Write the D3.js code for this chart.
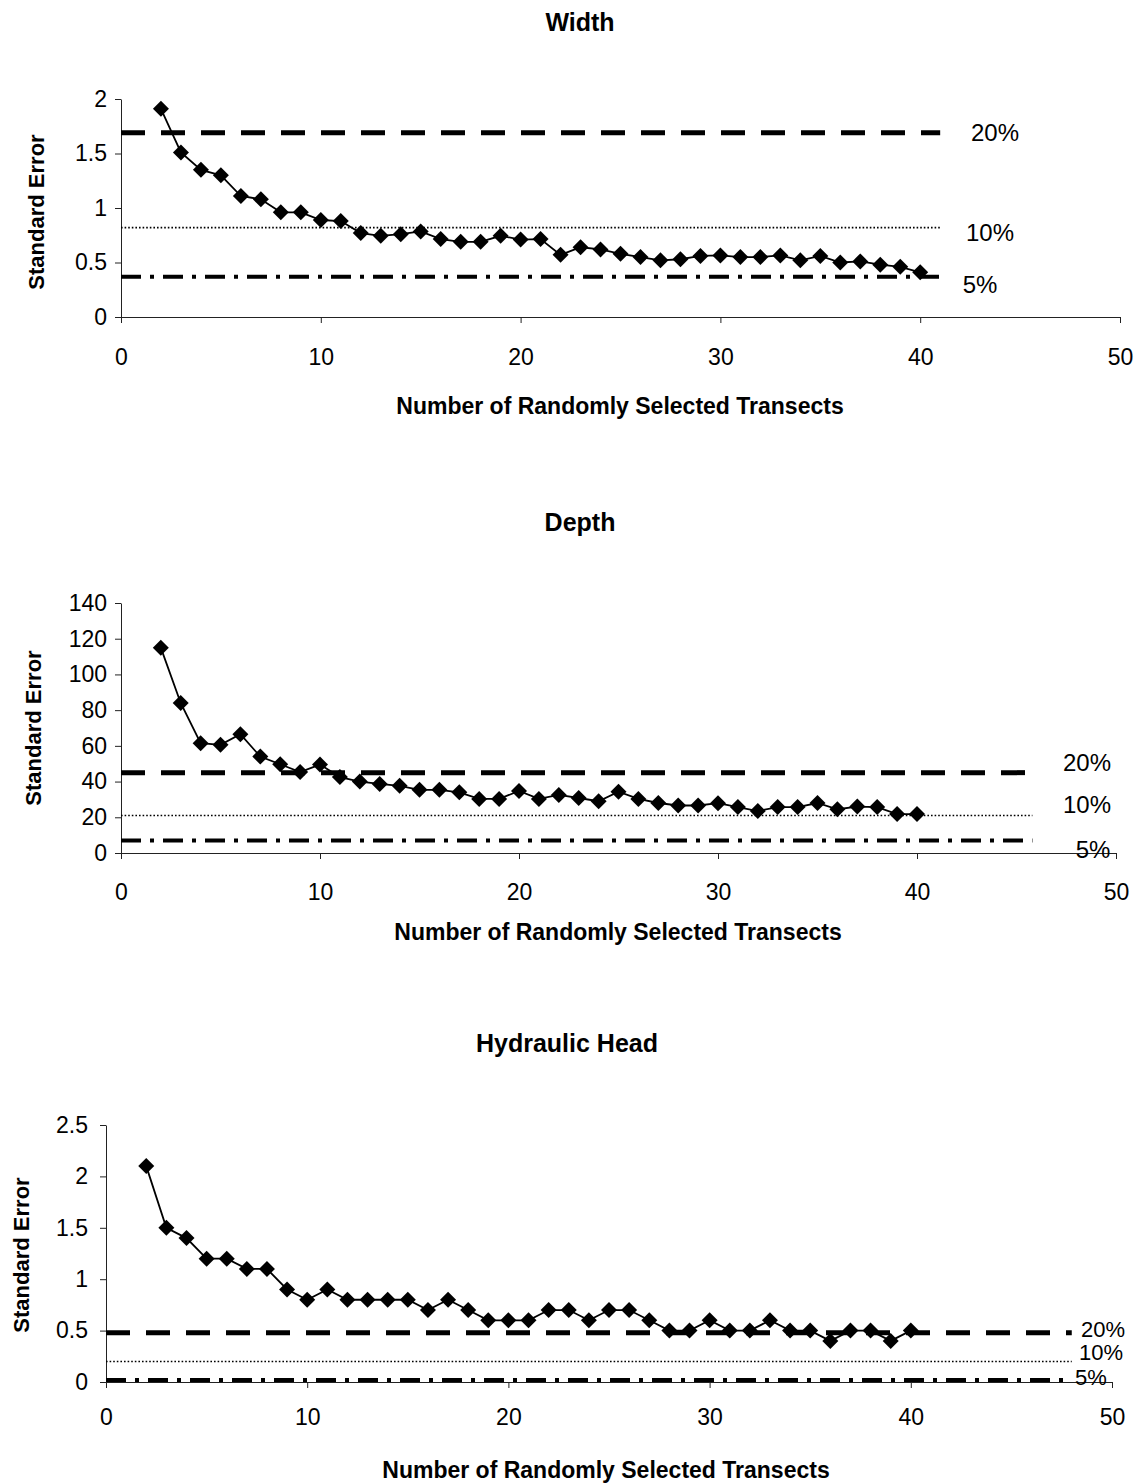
<!DOCTYPE html>
<html>
<head>
<meta charset="utf-8">
<script src="https://cdn.jsdelivr.net/npm/d3@7"></script>
<style>
  body { margin: 0; background: #fff; }
  svg { font-family: "Liberation Sans", Arial, sans-serif; }
  .tick text { font-size: 23px; fill: #000; }
  .title { font-size: 25px; font-weight: bold; }
  .axis-title { font-size: 23px; font-weight: bold; }
  .ytitle { font-size: 22px; font-weight: bold; }
  .pct { font-size: 24px; }
</style>
</head>
<body>
<div id="chart"></div>
<script>
// x values: number of randomly selected transects
var transects = d3.range(2, 41);

// Standard error series
var widthSE = [1.91, 1.51, 1.35, 1.30, 1.11, 1.08, 0.96, 0.96, 0.89, 0.88,
  0.77, 0.745, 0.76, 0.785, 0.715, 0.69, 0.69, 0.745, 0.71, 0.715,
  0.57, 0.64, 0.62, 0.58, 0.55, 0.52, 0.53, 0.56, 0.565, 0.55,
  0.55, 0.565, 0.52, 0.56, 0.50, 0.51, 0.48, 0.46, 0.41];

var depthSE = [115, 84, 61.5, 60.6, 66.5, 54, 49.7, 45.3, 49.5, 42.5,
  40, 38.7, 37.6, 35.4, 35.4, 34, 30.3, 30.3, 34.7, 30.3,
  32.5, 30.8, 29, 34.3, 30.3, 28, 26.6, 26.6, 27.9, 25.7,
  23.5, 25.7, 25.7, 28, 24.5, 26, 25.7, 21.8, 21.8];

var headSE = [2.1, 1.5, 1.4, 1.2, 1.2, 1.1, 1.1, 0.9, 0.8, 0.9,
  0.8, 0.8, 0.8, 0.8, 0.7, 0.8, 0.7, 0.6, 0.6, 0.6,
  0.7, 0.7, 0.6, 0.7, 0.7, 0.6, 0.5, 0.5, 0.6, 0.5,
  0.5, 0.6, 0.5, 0.5, 0.4, 0.5, 0.5, 0.4, 0.5];

// precision reference lines (20%, 10%, 5%) and how far right they run
var pctLabels = ["20%", "10%", "5%"];
var widthRef = [1.69, 0.82, 0.37];
var depthRef = [45, 21, 7];
var headRef = [0.48, 0.2, 0.02];
var widthRefEnd = 41;
var depthRefEnd = 45.8;
var headRefEnd = 48;

var xTicks = [0, 10, 20, 30, 40, 50];
var widthTicks = [0, 0.5, 1, 1.5, 2];
var depthTicks = [0, 20, 40, 60, 80, 100, 120, 140];
var headTicks = [0, 0.5, 1, 1.5, 2, 2.5];

var svg = d3.select("#chart")
  .append("svg")
  .attr("width", 1140)
  .attr("height", 1483);

// dash styles for the three reference lines
var refStyles = [
  { width: 5, dash: "24,16" },
  { width: 1.6, dash: "1.6,2" },
  { width: 4, dash: "20,9,4,9" }
];

function drawChart(opts) {
  var x = d3.scaleLinear().domain([0, 50]).range([opts.left, opts.right]);
  var y = d3.scaleLinear().domain([0, opts.yMax]).range([opts.bottom, opts.top]);

  var g = svg.append("g");

  // axes
  g.append("g")
    .attr("transform", `translate(0, ${opts.bottom})`)
    .call(d3.axisBottom(x).tickValues(xTicks).tickFormat(d3.format("d"))
      .tickSizeInner(6).tickSizeOuter(6).tickPadding(opts.xPad))
    .call(a => a.selectAll("path, line").attr("stroke", "#222"));

  g.append("g")
    .attr("transform", `translate(${opts.left}, 0)`)
    .call(d3.axisLeft(y).tickValues(opts.yTicks).tickFormat(d => d)
      .tickSizeInner(6).tickSizeOuter(0).tickPadding(opts.yPad))
    .call(a => a.selectAll("path, line").attr("stroke", "#222"));

  // reference lines
  opts.refs.forEach(function(v, i) {
    g.append("line")
      .attr("x1", x(0))
      .attr("x2", x(opts.refEnd))
      .attr("y1", y(v))
      .attr("y2", y(v))
      .attr("stroke", "#000")
      .attr("stroke-width", refStyles[i].width)
      .attr("stroke-dasharray", refStyles[i].dash);

    g.append("text")
      .attr("class", "pct")
      .attr("x", opts.labelPos[i][0])
      .attr("y", opts.labelPos[i][1])
      .attr("text-anchor", "middle")
      .attr("dy", "0.35em")
      .style("font-size", opts.pctSize)
      .text(pctLabels[i]);
  });

  // data series
  var line = d3.line()
    .x((d, i) => x(transects[i]))
    .y(d => y(d));

  g.append("path")
    .datum(opts.values)
    .attr("d", line)
    .attr("fill", "none")
    .attr("stroke", "#000")
    .attr("stroke-width", 1.8);

  g.selectAll(".pt")
    .data(opts.values)
    .enter()
    .append("path")
    .attr("class", "pt")
    .attr("transform", (d, i) => `translate(${x(transects[i])}, ${y(d)})`)
    .attr("d", "M0,-8L8,0L0,8L-8,0Z")
    .attr("fill", "#000");

  // titles
  g.append("text")
    .attr("class", "title")
    .attr("x", opts.titlePos[0])
    .attr("y", opts.titlePos[1])
    .attr("text-anchor", "middle")
    .attr("dy", "0.35em")
    .text(opts.title);

  g.append("text")
    .attr("class", "axis-title")
    .attr("x", opts.xTitlePos[0])
    .attr("y", opts.xTitlePos[1])
    .attr("text-anchor", "middle")
    .attr("dy", "0.35em")
    .text("Number of Randomly Selected Transects");

  g.append("text")
    .attr("class", "ytitle")
    .attr("transform", `translate(${opts.yTitlePos[0]}, ${opts.yTitlePos[1]}) rotate(-90)`)
    .attr("text-anchor", "middle")
    .attr("dy", "0.35em")
    .text("Standard Error");
}

drawChart({
  title: "Width",
  values: widthSE, refs: widthRef, refEnd: widthRefEnd, yMax: 2, yTicks: widthTicks,
  left: 121, right: 1120, top: 99, bottom: 317, xPad: 26, yPad: 8,
  labelPos: [[995, 133], [990, 233], [980, 285]], pctSize: "24px",
  titlePos: [580, 22], xTitlePos: [620, 406], yTitlePos: [36, 212]
});

drawChart({
  title: "Depth",
  values: depthSE, refs: depthRef, refEnd: depthRefEnd, yMax: 140, yTicks: depthTicks,
  left: 121, right: 1116, top: 603, bottom: 853, xPad: 25, yPad: 8,
  labelPos: [[1087, 763], [1087, 805], [1093, 850]], pctSize: "24px",
  titlePos: [580, 522], xTitlePos: [618, 932], yTitlePos: [33, 728]
});

drawChart({
  title: "Hydraulic Head",
  values: headSE, refs: headRef, refEnd: headRefEnd, yMax: 2.5, yTicks: headTicks,
  left: 106, right: 1112, top: 1125, bottom: 1382, xPad: 21, yPad: 12,
  labelPos: [[1103, 1329], [1101, 1352], [1091, 1377]], pctSize: "22px",
  titlePos: [567, 1043], xTitlePos: [606, 1470], yTitlePos: [21, 1255]
});
</script>
</body>
</html>
